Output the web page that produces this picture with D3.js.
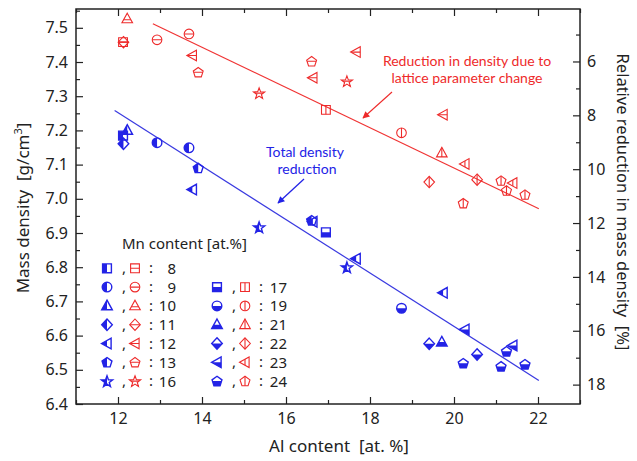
<!DOCTYPE html>
<html><head><meta charset="utf-8">
<script src="https://cdn.jsdelivr.net/npm/d3@7"></script>
<style>body{margin:0;background:#fff} svg{display:block}</style>
</head><body><svg id="c" width="637" height="461"></svg>
<script>
// ---- data ----
const alContent      = [12.12, 12.22, 12.13, 12.93, 13.69, 13.77, 13.91, 15.36, 16.61, 16.64, 16.95, 17.45, 17.67, 18.75, 19.74, 19.41, 19.71, 20.26, 20.55, 20.22, 21.12, 21.25, 21.40, 21.69];
const mnContent      = [8, 10, 11, 9, 9, 12, 13, 16, 13, 12, 17, 16, 12, 19, 12, 22, 21, 23, 22, 24, 24, 24, 23, 24];
const totalDensity   = [7.185, 7.200, 7.161, 7.164, 7.149, 7.027, 7.090, 6.917, 6.937, 6.933, 6.902, 6.800, 6.825, 6.680, 6.725, 6.576, 6.581, 6.618, 6.545, 6.519, 6.510, 6.554, 6.571, 6.516];
const latticeDensity = [7.458, 7.526, 7.458, 7.465, 7.482, 7.419, 7.370, 7.309, 7.402, 7.354, 7.260, 7.344, 7.429, 7.193, 7.246, 7.049, 7.134, 7.102, 7.056, 6.987, 7.053, 7.024, 7.046, 7.012];
const totalFitAl = [11.92, 22.02], totalFitDensity = [7.258, 6.469];
const latticeFitAl = [12.83, 22.02], latticeFitDensity = [7.512, 6.971];
const xTicks = [12, 14, 16, 18, 20, 22];
const xMinorTicks = [11, 13, 15, 17, 19, 21, 23];
const yTicks = [6.4, 6.5, 6.6, 6.7, 6.8, 6.9, 7.0, 7.1, 7.2, 7.3, 7.4, 7.5];
const yMinorTicks = [6.45, 6.55, 6.65, 6.75, 6.85, 6.95, 7.05, 7.15, 7.25, 7.35, 7.45, 7.55];
const rightTicks = [6, 8, 10, 12, 14, 16, 18];
const rightMinorTicks = [5, 7, 9, 11, 13, 15, 17];
const referenceDensity = 7.874; // pure Fe
const legendCol1 = [8, 9, 10, 11, 12, 13, 16];
const legendCol2 = [17, 19, 21, 22, 23, 24];
const mnShape = {8:'square', 9:'circle', 10:'triangle', 11:'diamond', 12:'lefttri', 13:'pentagon', 16:'star',
                 17:'square', 19:'circle', 21:'triangle', 22:'diamond', 23:'lefttri', 24:'pentagon'};

// ---- layout ----
const L = 76, R = 580, T = 9, B = 404;
const BLUE = '#2323e6', RED = '#ee2a2a', LBLUE = '#3a3ae0', LRED = '#f03434';
const FONT = '"Noto Sans", "Open Sans", sans-serif';
const AFONT = 'Lato, "Noto Sans", sans-serif';

const svg = d3.select('#c');
const x = d3.scaleLinear().domain([11, 23]).range([L, R]);
const y = d3.scaleLinear().domain([6.4, 7.555]).range([B, T]);
const rel = d => (referenceDensity - d) / referenceDensity * 100;
const yr = d3.scaleLinear().domain([rel(7.555), rel(6.4)]).range([T, B]);

// ---- symbol shapes ----
function shapePath(t) {
  if (t === 'square') return 'M-4.4,-4.4H4.4V4.4H-4.4Z';
  if (t === 'circle') return 'M4.8,0A4.8,4.8 0 1 1 -4.8,0A4.8,4.8 0 1 1 4.8,0Z';
  if (t === 'triangle') return 'M0,-5.7L5.3,3.9L-5.3,3.9Z';
  if (t === 'diamond') return 'M0,-5.7L5.3,0L0,5.7L-5.3,0Z';
  if (t === 'lefttri') return 'M-5.5,0L4.1,-5.3L4.1,5.3Z';
  const pts = [];
  if (t === 'pentagon') {
    for (let i = 0; i < 5; i++) { const a = -Math.PI/2 + i*2*Math.PI/5; pts.push([5.2*Math.cos(a), 5.2*Math.sin(a) + 0.4]); }
  } else { // star
    for (let i = 0; i < 10; i++) { const a = -Math.PI/2 + i*Math.PI/5, r = i%2 ? 2.4 : 5.9; pts.push([r*Math.cos(a), r*Math.sin(a) + 0.6]); }
  }
  return 'M' + pts.map(p => p[0].toFixed(2) + ',' + p[1].toFixed(2)).join('L') + 'Z';
}
const defs = svg.append('defs');
Object.values(mnShape).filter((v,i,a)=>a.indexOf(v)===i).forEach(t => {
  defs.append('clipPath').attr('id', 'clip-' + t).append('path').attr('d', shapePath(t));
});
defs.append('clipPath').attr('id', 'half-left').append('rect').attr('x', -10).attr('y', -10).attr('width', 10).attr('height', 20);
defs.append('clipPath').attr('id', 'half-bottom').append('rect').attr('x', -10).attr('y', 0).attr('width', 20).attr('height', 10);

function blueSymbol(g, mn) {
  const t = mnShape[mn], first = mn <= 16;
  g.append('path').attr('d', shapePath(t)).attr('fill', BLUE)
    .attr('clip-path', first ? 'url(#half-left)' : 'url(#half-bottom)');
  g.append('path').attr('d', shapePath(t)).attr('fill', 'none').attr('stroke', BLUE).attr('stroke-width', 1.4);
}
function redSymbol(g, mn) {
  const t = mnShape[mn], first = mn <= 16;
  g.append('path').attr('d', shapePath(t)).attr('fill', 'none').attr('stroke', RED).attr('stroke-width', 1.1);
  const ln = g.append('line').attr('stroke', RED).attr('stroke-width', 1.1).attr('clip-path', 'url(#clip-' + t + ')');
  if (first) ln.attr('x1', -7).attr('x2', 7).attr('y1', t === 'triangle' ? 0.8 : 0).attr('y2', t === 'triangle' ? 0.8 : 0);
  else ln.attr('x1', 0).attr('x2', 0).attr('y1', -7).attr('y2', 7);
}

// ---- axes ----
const ax = svg.append('g');
function styleAxis(g) { g.select('.domain').remove(); g.selectAll('line').attr('stroke', '#222').attr('stroke-width', 1.2); g.selectAll('text').attr('fill', '#222').attr('font-family', FONT).attr('font-size', 16); }
ax.append('g').attr('transform', `translate(0,${B})`).call(d3.axisBottom(x).tickValues(xTicks).tickSize(-7).tickPadding(9).tickFormat(d3.format('d'))).call(styleAxis);
ax.append('g').attr('transform', `translate(0,${B})`).call(d3.axisBottom(x).tickValues(xMinorTicks).tickSize(-4).tickFormat('')).call(styleAxis);
ax.append('g').attr('transform', `translate(0,${T})`).call(d3.axisTop(x).tickValues(xTicks).tickSize(-7).tickFormat('')).call(styleAxis);
ax.append('g').attr('transform', `translate(0,${T})`).call(d3.axisTop(x).tickValues(xMinorTicks).tickSize(-4).tickFormat('')).call(styleAxis);
ax.append('g').attr('transform', `translate(${L},0)`).call(d3.axisLeft(y).tickValues(yTicks).tickSize(-7).tickPadding(8).tickFormat(d3.format('.1f'))).call(styleAxis);
ax.append('g').attr('transform', `translate(${L},0)`).call(d3.axisLeft(y).tickValues(yMinorTicks.filter(v => v < 7.555)).tickSize(-4).tickFormat('')).call(styleAxis);
ax.append('g').attr('transform', `translate(${R},0)`).call(d3.axisRight(yr).tickValues(rightTicks).tickSize(-7).tickPadding(7).tickFormat(d3.format('d'))).call(styleAxis);
ax.append('g').attr('transform', `translate(${R},0)`).call(d3.axisRight(yr).tickValues(rightMinorTicks).tickSize(-4).tickFormat('')).call(styleAxis);
svg.append('rect').attr('x', L).attr('y', T).attr('width', R - L).attr('height', B - T).attr('fill', 'none').attr('stroke', '#222').attr('stroke-width', 1.5);

// axis titles
svg.append('text').attr('x', 339).attr('y', 452).attr('text-anchor', 'middle').attr('font-family', FONT).attr('font-size', 17).attr('fill', '#222').attr('xml:space', 'preserve').text('Al content  [at. %]');
const lt = svg.append('text').attr('transform', 'translate(29,208) rotate(-90)').attr('text-anchor', 'middle').attr('font-family', FONT).attr('font-size', 17).attr('fill', '#222').attr('xml:space', 'preserve');
lt.append('tspan').text('Mass density  [g/cm');
lt.append('tspan').attr('dy', -7).attr('font-size', 11).text('3');
lt.append('tspan').attr('dy', 7).text(']');
svg.append('text').attr('transform', 'translate(617,202) rotate(90)').attr('text-anchor', 'middle').attr('font-family', FONT).attr('font-size', 16.5).attr('fill', '#222').attr('xml:space', 'preserve').text('Relative reduction in mass density  [%]');

// ---- fit lines ----
svg.append('line').attr('x1', x(totalFitAl[0])).attr('y1', y(totalFitDensity[0])).attr('x2', x(totalFitAl[1])).attr('y2', y(totalFitDensity[1])).attr('stroke', LBLUE).attr('stroke-width', 1.2);
svg.append('line').attr('x1', x(latticeFitAl[0])).attr('y1', y(latticeFitDensity[0])).attr('x2', x(latticeFitAl[1])).attr('y2', y(latticeFitDensity[1])).attr('stroke', LRED).attr('stroke-width', 1.2);

// ---- points ----
alContent.forEach((a, i) => {
  redSymbol(svg.append('g').attr('transform', `translate(${x(a)},${y(latticeDensity[i])})`), mnContent[i]);
  blueSymbol(svg.append('g').attr('transform', `translate(${x(a)},${y(totalDensity[i])})`), mnContent[i]);
});

// ---- annotations ----
defs.append('marker').attr('id', 'ah-b').attr('viewBox', '0 0 10 10').attr('refX', 9).attr('refY', 5).attr('markerWidth', 9).attr('markerHeight', 7).attr('markerUnits', 'userSpaceOnUse').attr('orient', 'auto')
  .append('path').attr('d', 'M0,0L10,5L0,10Z').attr('fill', BLUE);
defs.append('marker').attr('id', 'ah-r').attr('viewBox', '0 0 10 10').attr('refX', 9).attr('refY', 5).attr('markerWidth', 9).attr('markerHeight', 7).attr('markerUnits', 'userSpaceOnUse').attr('orient', 'auto')
  .append('path').attr('d', 'M0,0L10,5L0,10Z').attr('fill', RED);
const an = svg.append('g').attr('font-family', AFONT).attr('font-size', 14).attr('text-anchor', 'middle');
an.append('text').attr('x', 305).attr('y', 157).attr('fill', BLUE).text('Total density');
an.append('text').attr('x', 307).attr('y', 174).attr('fill', BLUE).text('reduction');
an.append('text').attr('x', 467).attr('y', 66).attr('fill', RED).text('Reduction in density due to');
an.append('text').attr('x', 467).attr('y', 83).attr('fill', RED).text('lattice parameter change');
svg.append('line').attr('x1', 304).attr('y1', 179).attr('x2', 278).attr('y2', 203).attr('stroke', BLUE).attr('stroke-width', 1.3).attr('marker-end', 'url(#ah-b)');
svg.append('line').attr('x1', 392).attr('y1', 92).attr('x2', 363).attr('y2', 118).attr('stroke', RED).attr('stroke-width', 1.1).attr('marker-end', 'url(#ah-r)');

// ---- legend ----
const lg = svg.append('g').attr('font-family', FONT).attr('font-size', 15).attr('fill', '#222');
lg.append('text').attr('x', 122).attr('y', 249).text('Mn content [at.%]');
const rowY = i => 268.3 + i * 18.8;
function legendRow(mn, row, bx, nx) {
  const g = lg.append('g');
  blueSymbol(g.append('g').attr('transform', `translate(${bx},${rowY(row)})`), mn);
  g.append('text').attr('x', bx + 15).attr('y', rowY(row) + 5).text(',');
  redSymbol(g.append('g').attr('transform', `translate(${bx + 28},${rowY(row)})`), mn);
  g.append('text').attr('x', bx + 42).attr('y', rowY(row) + 5).text(':');
  g.append('text').attr('x', nx).attr('y', rowY(row) + 5.5).attr('text-anchor', 'end').text(mn);
}
legendCol1.forEach((mn, i) => legendRow(mn, i, 107, 176));
legendCol2.forEach((mn, i) => legendRow(mn, i + 1, 217, 287));
</script></body></html>
